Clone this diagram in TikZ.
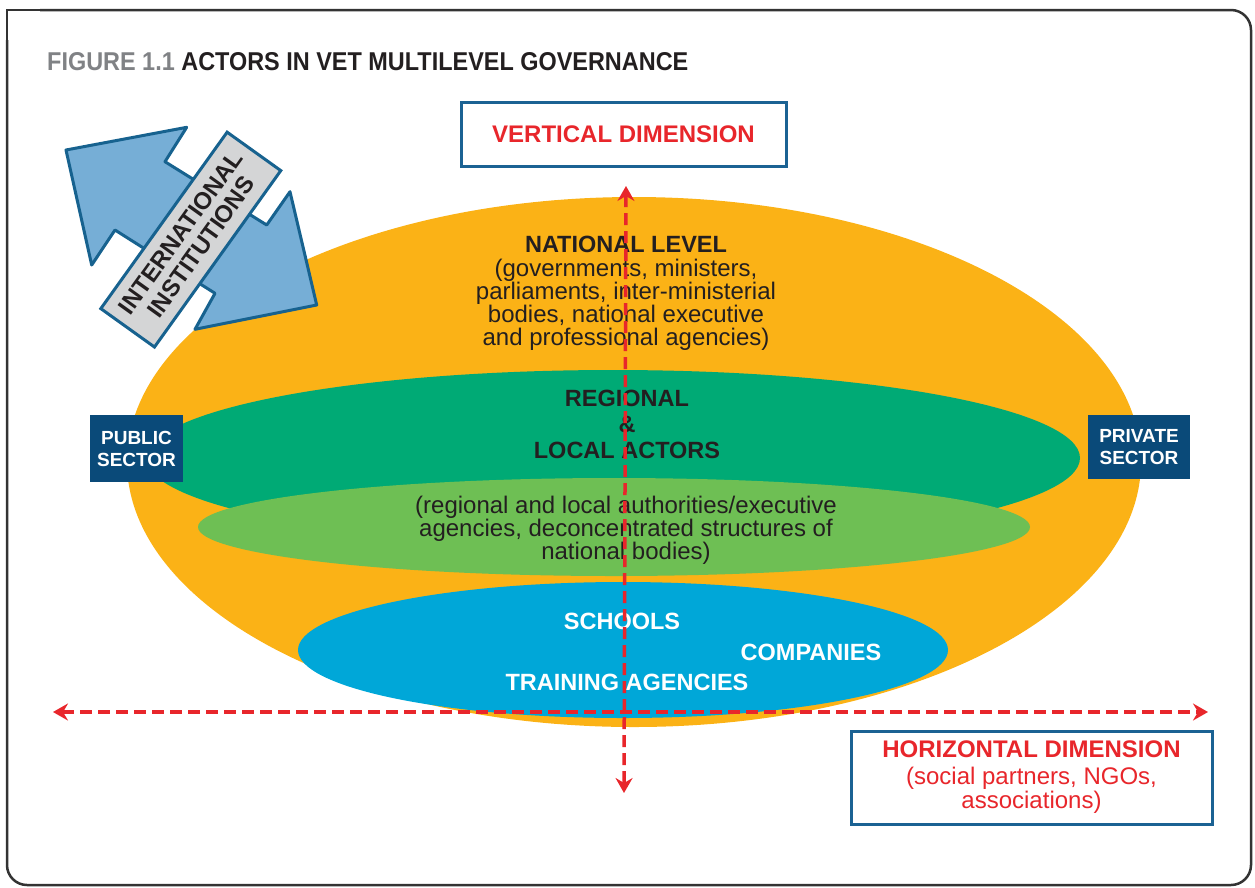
\documentclass[tikz,border=0pt]{standalone}
\usepackage{fontspec}
\setmainfont{Liberation Sans}
\usepackage{graphicx}
\usetikzlibrary{arrows.meta}
\definecolor{orangeE}{HTML}{FBB216}
\definecolor{dgreen}{HTML}{00AA75}
\definecolor{lgreen}{HTML}{6EBF54}
\definecolor{cyanE}{HTML}{00A7D8}
\definecolor{navy}{HTML}{0A4A79}
\definecolor{boxblue}{HTML}{1B6293}
\definecolor{redD}{HTML}{E8262B}
\definecolor{arrowfill}{HTML}{76AED6}
\definecolor{arrowline}{HTML}{17628F}
\definecolor{labelgray}{HTML}{D4D5D6}
\definecolor{txt}{HTML}{231F20}
\definecolor{figgray}{HTML}{808285}
\definecolor{framec}{HTML}{333333}
\begin{document}
\begin{tikzpicture}[x=1pt,y=-1pt,
  dimbox/.style={draw=boxblue,line width=3pt,fill=white,inner sep=0pt,align=center,text=redD},
  sectorbox/.style={fill=navy,text=white,font=\fontsize{19pt}{22pt}\selectfont\bfseries,align=center,inner sep=0pt},
  dimarrow/.style={draw=redD,line width=3.5pt,dash pattern=on 12pt off 6pt,
    {Stealth[length=15pt,width=17pt,inset=5pt]}-{Stealth[length=15pt,width=17pt,inset=5pt]}},
  boldtxt/.style={font=\fontsize{23.5pt}{26pt}\selectfont\bfseries,align=center,inner sep=0pt,text=txt},
  regtxt/.style={font=\fontsize{24pt}{23pt}\selectfont,align=center,inner sep=0pt,text=txt},
  whitetxt/.style={font=\fontsize{23.5pt}{26pt}\selectfont\bfseries,inner sep=0pt,text=white},
]
\useasboundingbox (0,0) rectangle (1255,887);
% frame
\draw[framec,line width=2.5pt,line cap=rect] (7,40) -- (7,10) -- (40,10);
\draw[framec,line width=2.5pt,rounded corners=20pt] (40,10) -- (1251,10) -- (1251,885) -- (7,885) -- (7,40);
% title
\node[anchor=base west,inner sep=0pt] (title) at (47,70)
  {\resizebox{641pt}{18pt}{\bfseries\color{figgray}FIGURE 1.1 \color{txt}ACTORS IN VET MULTILEVEL GOVERNANCE}};
% ellipses
\fill[orangeE] (634,462) ellipse [x radius=507pt, y radius=265pt];
\fill[dgreen] (613,458) ellipse [x radius=467pt, y radius=88pt];
\fill[lgreen] (614,527) ellipse [x radius=416pt, y radius=49pt];
\fill[cyanE] (623,650) ellipse [x radius=325pt, y radius=68pt];
% international institutions
\filldraw[fill=arrowfill,draw=arrowline,line width=3pt,line join=round]
  (66,150) -- (186.7,127.3) -- (165,161.7) -- (266.7,225) -- (290,191.7) -- (316.7,305)
  -- (195,329.3) -- (215,293.3) -- (115,230) -- (91.7,265) -- cycle;
\node[draw=arrowline,line width=3pt,fill=labelgray,rotate=54.4,minimum width=217pt,minimum height=66pt,
  inner sep=0pt,font=\fontsize{24pt}{25pt}\selectfont\bfseries,align=center,text=txt] (intl) at (190.8,239.6)
  {INTERNATIONAL\\INSTITUTIONS};
% texts
\node[boldtxt] (nat) at (626,244) {NATIONAL LEVEL};
\node[regtxt] (natd) at (626,305) {(governments, ministers,\\parliaments, inter-ministerial\\bodies, national executive\\and professional agencies)};
\node[boldtxt] (reg) at (627,424) {REGIONAL\\\&\\LOCAL ACTORS};
\node[regtxt] (regd) at (626,530) {(regional and local authorities/executive\\agencies, deconcentrated structures of\\national bodies)};
\node[whitetxt] (sch) at (622,621) {SCHOOLS};
\node[whitetxt] (comp) at (811,652) {COMPANIES};
\node[whitetxt] (train) at (627,682) {TRAINING AGENCIES};
% sector boxes
\node[sectorbox,minimum width=93pt,minimum height=67pt] (pub) at (136.5,448.5) {PUBLIC\\SECTOR};
\node[sectorbox,minimum width=102pt,minimum height=64pt] (priv) at (1139,447) {PRIVATE\\SECTOR};
% dimension boxes
\node[dimbox,minimum width=325pt,minimum height=64pt,font=\fontsize{24pt}{26pt}\selectfont\bfseries] (vdim) at (623.5,134) {VERTICAL DIMENSION};
\node[dimbox,minimum width=361pt,minimum height=93pt,font=\fontsize{24pt}{24pt}\selectfont] (hdim) at (1031.5,777.5)
  {\textbf{HORIZONTAL DIMENSION}\\[3pt](social partners, NGOs,\\associations)};
% dimension arrows
\coordinate (vtop) at (626,186);
\coordinate (vbot) at (624,793);
\coordinate (hleft) at (53,712);
\coordinate (hright) at (1208,712);
\draw[dimarrow] (vtop) -- (vbot);
\draw[dimarrow] (hleft) -- (hright);
\end{tikzpicture}
\end{document}
